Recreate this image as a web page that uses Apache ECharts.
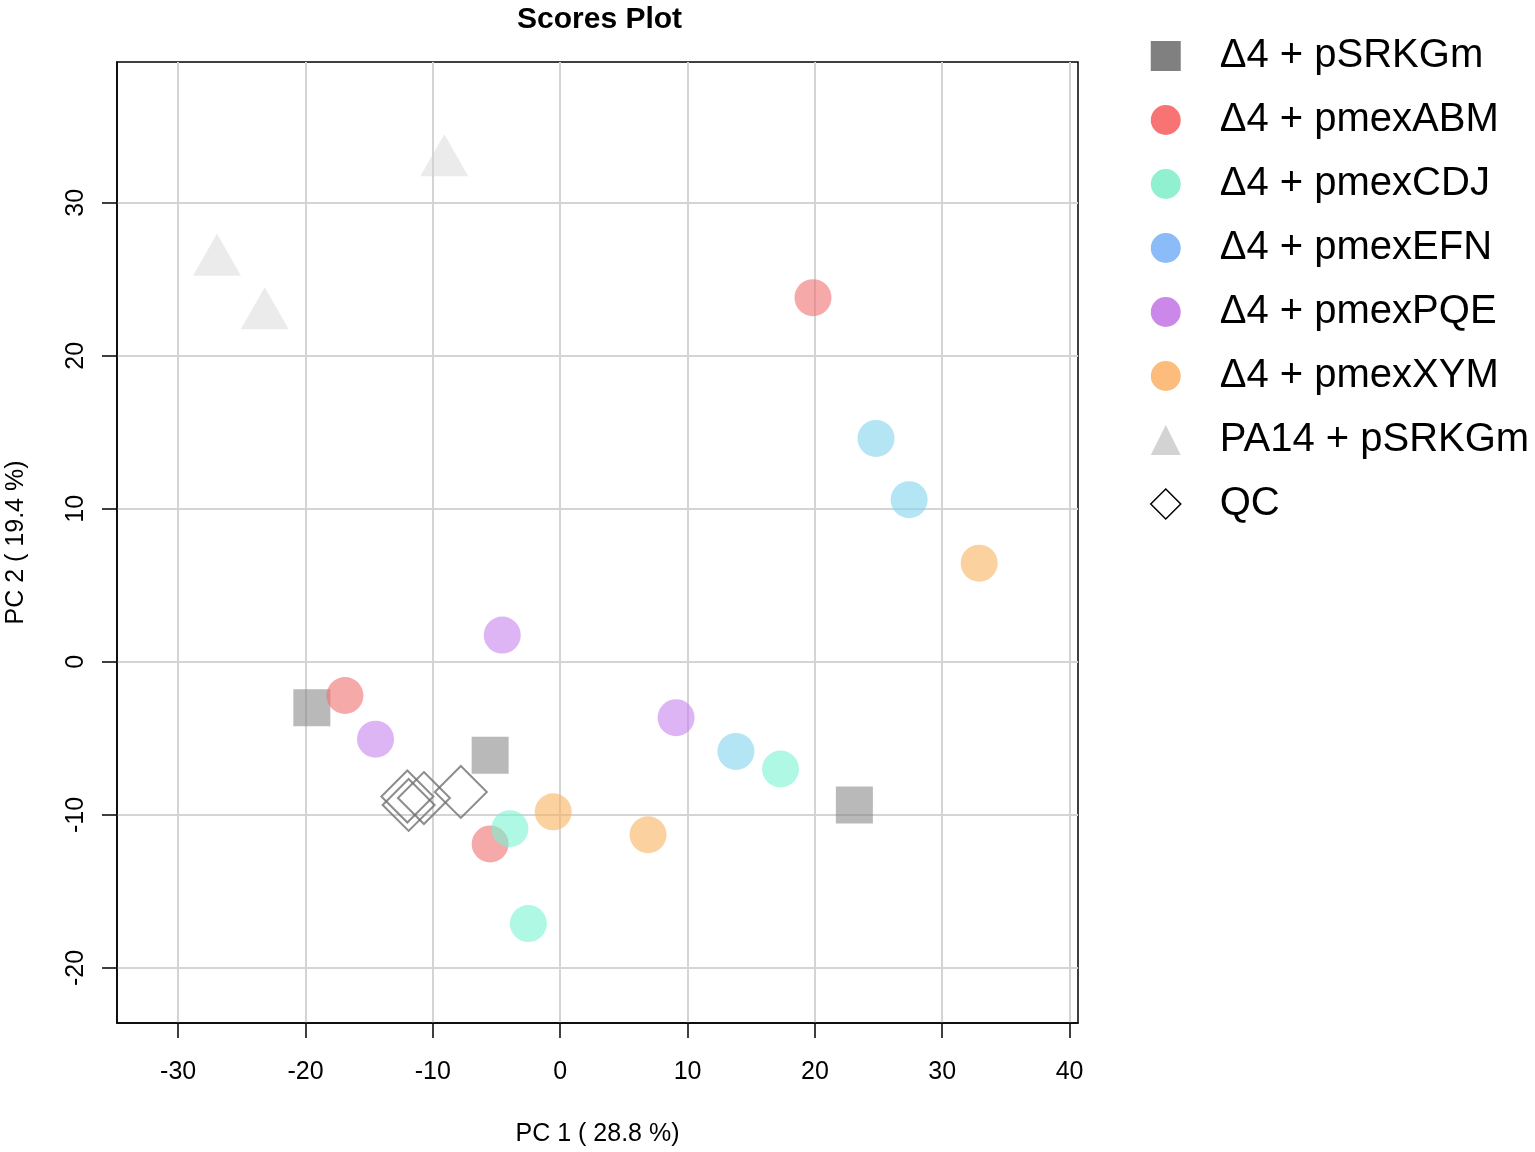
<!DOCTYPE html>
<html>
<head>
<meta charset="utf-8">
<title>Scores Plot</title>
<script src="https://cdn.jsdelivr.net/npm/echarts@6/dist/echarts.min.js"></script>
<style>
	html, body { margin: 0; padding: 0; background: #fff; }
	#main { width: 1535px; height: 1152px; }
</style>
</head>
<body>
<div id="main"></div>
<script>
// groups and their scores, [PC1, PC2]
var groups = ['Δ4 + pSRKGm', 'Δ4 + pmexABM', 'Δ4 + pmexCDJ', 'Δ4 + pmexEFN', 'Δ4 + pmexPQE', 'Δ4 + pmexXYM', 'PA14 + pSRKGm', 'QC'];
var pSRKGm = [[-19.5, -3.0], [-5.5, -6.1], [23.1, -9.35]];
var pmexABM = [[19.85, 23.8], [-16.9, -2.2], [-5.5, -11.9]];
var pmexCDJ = [[-3.95, -10.9], [-2.5, -17.1], [17.3, -7.0]];
var pmexEFN = [[24.8, 14.6], [27.4, 10.6], [13.8, -5.85]];
var pmexPQE = [[-4.55, 1.75], [-14.5, -5.05], [9.1, -3.65]];
var pmexXYM = [[32.9, 6.45], [-0.55, -9.8], [6.9, -11.3]];
var pa14 = [[-26.95, 26.6], [-23.2, 23.1], [-9.1, 33.1]];
var qc = [[-12.0, -8.8], [-11.9, -9.35], [-10.7, -8.9], [-7.8, -8.5]];
var xTicks = [-30, -20, -10, 0, 10, 20, 30, 40];
var yTicks = [-20, -10, 0, 10, 20, 30];

var font = 'Liberation Sans, Arial, sans-serif';
// plot colours (drawn with alpha) and legend colours
var colors = ['#808080', '#ee7070', '#78f3d2', '#80d4ee', '#c684ee', '#f8b25f', '#d3d3d3'];
var legendColors = ['#808080', '#f87474', '#90f0d0', '#8cbcf8', '#cc88e8', '#fcbc7c', '#d3d3d3'];

function pt(name, data, symbol, size, color, opacity) {
	return {
		name: name,
		type: 'scatter',
		data: data,
		symbol: symbol,
		symbolSize: size,
		itemStyle: { color: color, opacity: opacity },
		emphasis: { disabled: true }
	};
}

var series = [
	pt(groups[6], pa14, 'triangle', [48, 42], colors[6], 0.45),
	pt(groups[0], pSRKGm, 'rect', 37, colors[0], 0.55),
	pt(groups[1], pmexABM, 'circle', 37, colors[1], 0.6),
	pt(groups[2], pmexCDJ, 'circle', 37, colors[2], 0.6),
	pt(groups[3], pmexEFN, 'circle', 37, colors[3], 0.6),
	pt(groups[4], pmexPQE, 'circle', 37, colors[4], 0.6),
	pt(groups[5], pmexXYM, 'circle', 37, colors[5], 0.6),
	{
		name: groups[7],
		type: 'scatter',
		data: qc,
		symbol: 'diamond',
		symbolSize: 52,
		itemStyle: { color: 'rgba(0,0,0,0)', borderColor: '#707070', borderWidth: 2 },
		emphasis: { disabled: true }
	}
];

var legendData = groups.map(function (g, i) {
	if (i === 7) {
		return { name: g, itemStyle: { color: '#fff', borderColor: '#000', borderWidth: 1.5, opacity: 1 } };
	}
	return { name: g, itemStyle: { color: legendColors[i], opacity: 1 } };
});

var myChart = echarts.init(document.getElementById('main'));
var option = {
	animation: false,
	backgroundColor: '#fff',
	title: {
		text: 'Scores Plot',
		left: 512,
		top: 0,
		textStyle: { fontFamily: font, fontSize: 30, fontWeight: 'bold', color: '#000' }
	},
	legend: {
		orient: 'vertical',
		left: 1145,
		top: 31,
		itemWidth: 30,
		itemHeight: 30,
		itemGap: 24,
		data: legendData,
		textStyle: { fontFamily: font, fontSize: 40, lineHeight: 36, padding: [0, 0, 0, 34], color: '#000' }
	},
	grid: {
		left: 117,
		right: 457,
		top: 62,
		bottom: 129,
		containLabel: false,
		outerBoundsMode: 'none',
		show: true,
		borderColor: '#000',
		borderWidth: 1.5
	},
	xAxis: {
		type: 'value',
		min: -34.8,
		max: 40.66,
		name: 'PC 1 ( 28.8 %)',
		nameLocation: 'middle',
		nameGap: 99,
		nameTextStyle: { fontFamily: font, fontSize: 25, color: '#000' },
		axisLine: { onZero: false, lineStyle: { color: '#000', width: 1.5 } },
		axisTick: { show: true, length: 15, customValues: xTicks, lineStyle: { color: '#000', width: 1.5 } },
		axisLabel: { customValues: xTicks, margin: 37, fontFamily: font, fontSize: 25, color: '#000' },
		splitLine: { show: true, lineStyle: { color: '#d4d4d4', width: 2 } }
	},
	yAxis: {
		type: 'value',
		min: -23.6,
		max: 39.2,
		name: 'PC 2 ( 19.4 %)',
		nameLocation: 'middle',
		nameGap: 88,
		nameTextStyle: { fontFamily: font, fontSize: 25, color: '#000' },
		axisLine: { onZero: false, lineStyle: { color: '#000', width: 1.5 } },
		axisTick: { show: true, length: 15, customValues: yTicks, lineStyle: { color: '#000', width: 1.5 } },
		axisLabel: { customValues: yTicks, rotate: 90, margin: 28, fontFamily: font, fontSize: 25, color: '#000' },
		splitLine: { show: true, lineStyle: { color: '#d4d4d4', width: 2 } }
	},
	series: series
};
myChart.setOption(option);
window.onresize = function () {
	myChart.resize();
};
</script>
</body>
</html>
